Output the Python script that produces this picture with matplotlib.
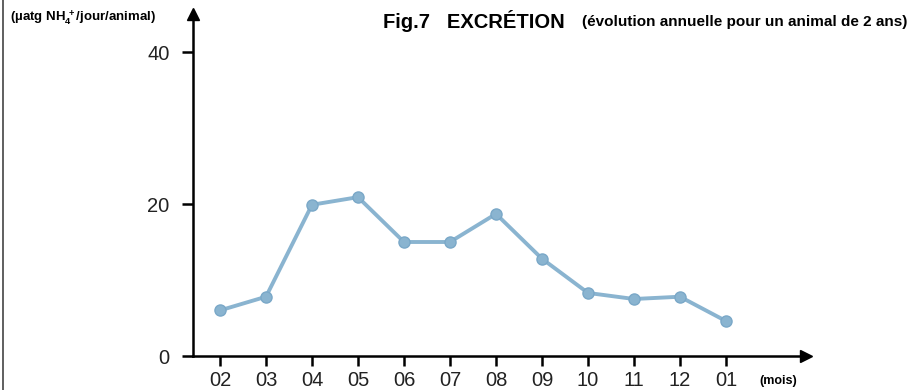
import numpy as np
import matplotlib.pyplot as plt
from matplotlib.lines import Line2D

plt.rcParams['font.family'] = ['Liberation Sans', 'DejaVu Sans']
plt.rcParams['mathtext.fontset'] = 'custom'
plt.rcParams['mathtext.bf'] = 'Liberation Sans:bold'

# data
months = ['02', '03', '04', '05', '06', '07', '08', '09', '10', '11', '12', '01']
excretion = [6.0, 7.8, 19.9, 20.9, 15.0, 15.0, 18.7, 12.8, 8.3, 7.5, 7.8, 4.6]
yticks = [0, 20, 40]

W, H = 919, 390
fig = plt.figure(figsize=(W / 100, H / 100), dpi=100)
ax = fig.add_axes([193 / W, 34 / H, (806 - 193) / W, (356 - 14) / H])

x = np.arange(len(months))
ax.plot(x, excretion, color='#8ab4d0', lw=2.8, marker='o', ms=8,
        mfc='#8ab4d0', mec='#7aa8c8', solid_joinstyle='round')

ax.set_xlim(-0.587, 12.74)
ax.set_ylim(0, 45)

# axes with arrow heads
for s in ['top', 'right']:
    ax.spines[s].set_visible(False)
for s in ['left', 'bottom']:
    ax.spines[s].set_linewidth(1.8)
    ax.spines[s].set_color('black')
ax.plot(1, 0, '>', color='black', ms=9, transform=ax.transAxes, clip_on=False)
ax.plot(0, 1, '^', color='black', ms=9, transform=ax.transAxes, clip_on=False)

ax.set_xticks(x)
ax.set_xticklabels(months)
ax.set_yticks(yticks)
ax.tick_params(axis='x', direction='out', length=7, width=1.8, pad=4,
               labelsize=14.5, colors='black')
ax.tick_params(axis='y', direction='out', length=8, width=1.8, pad=9,
               labelsize=14.5, colors='black')
for lbl in ax.get_xticklabels() + ax.get_yticklabels():
    lbl.set_color('#222222')

# texts
fig.text(10 / W, 1 - 18 / H, r'(µatg $\mathbf{NH_4^{\,+}}$/jour/animal)',
         fontsize=9.5, fontweight='bold', va='center', ha='left')
fig.text(383 / W, 1 - 21 / H, 'Fig.7   EXCRÉTION', fontsize=14.5,
         fontweight='bold', va='center', ha='left')
fig.text(582 / W, 1 - 22 / H, '(évolution annuelle pour un animal de 2 ans)',
         fontsize=11, fontweight='bold', va='center', ha='left')
fig.text(759 / W, 1 - 381 / H, '(mois)', fontsize=9, fontweight='bold',
         va='center', ha='left')

# scan border on the left
fig.add_artist(Line2D([3 / W, 3 / W], [0, 1], color='#444444', lw=1.2,
                      transform=fig.transFigure))

fig.savefig('out.png', dpi=100)
